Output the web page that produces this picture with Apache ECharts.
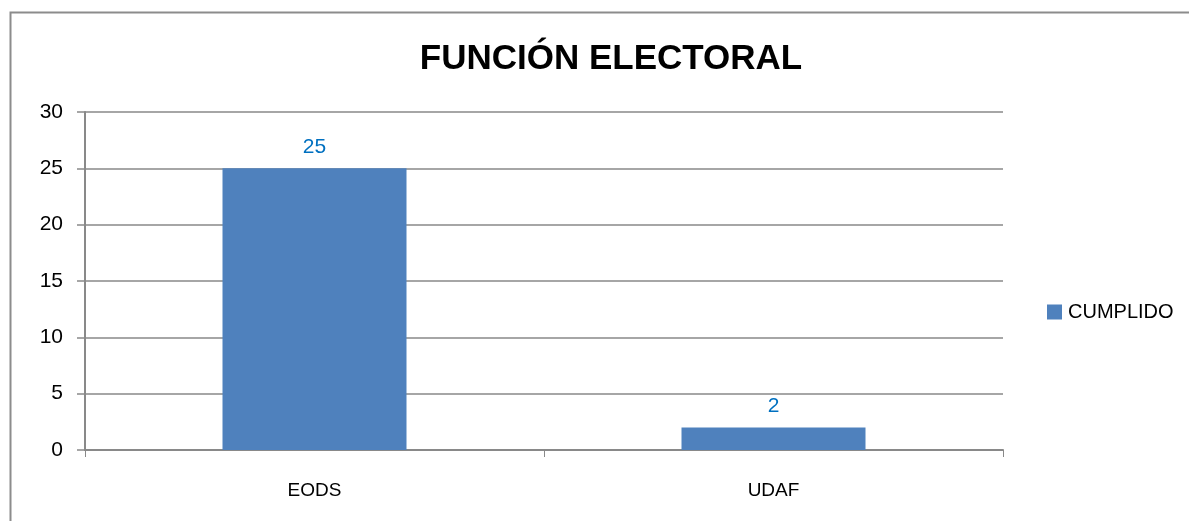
<!DOCTYPE html>
<html>
<head>
<meta charset="utf-8">
<script src="https://cdn.jsdelivr.net/npm/echarts@6/dist/echarts.min.js"></script>
<style>
  html, body { margin: 0; padding: 0; background: #fff; }
  #chart { width: 1189px; height: 521px; }
</style>
</head>
<body>
<div id="chart"></div>
<script>
  const categories = ['EODS', 'UDAF']
  const cumplido = [25, 2]
  const seriesName = 'CUMPLIDO'
  const titleText = 'FUNCIÓN ELECTORAL'

  const font = '"Liberation Sans", "DejaVu Sans", sans-serif'
  const axisGray = '#898989'

  const chart = echarts.init(document.getElementById('chart'))
  chart.setOption({
    animation: false,
    textStyle: { fontFamily: font },
    title: {
      text: titleText,
      left: 606,
      top: 37,
      textAlign: 'center',
      textStyle: { fontSize: 35, fontWeight: 'bold', color: '#000', fontFamily: font }
    },
    // outer frame of the chart box
    graphic: [{
      type: 'polyline',
      shape: { points: [[10.5, 521], [10.5, 12.5], [1189, 12.5]] },
      style: { stroke: '#8c8c8c', lineWidth: 2, fill: null }
    }],
    legend: {
      data: [seriesName],
      left: 1042,
      top: 297,
      icon: 'rect',
      itemWidth: 15,
      itemHeight: 15,
      itemGap: 6,
      textStyle: { fontSize: 20, color: '#000', fontFamily: font, padding: [0, 0, 0, 1] }
    },
    grid: { left: 85, top: 112, width: 918, height: 338, containLabel: false },
    xAxis: {
      type: 'category',
      data: categories,
      axisLine: { show: true, lineStyle: { color: axisGray, width: 2 } },
      axisTick: { show: true, length: 7, lineStyle: { color: axisGray, width: 1 } },
      axisLabel: { color: '#000', fontSize: 19, margin: 31, fontFamily: font }
    },
    yAxis: {
      type: 'value',
      min: 0,
      max: 30,
      interval: 5,
      axisLine: { show: true, lineStyle: { color: axisGray, width: 2 } },
      axisTick: { show: true, length: 8, lineStyle: { color: axisGray, width: 1.5 } },
      axisLabel: { color: '#000', fontSize: 21, margin: 22, fontFamily: font },
      splitLine: { show: true, lineStyle: { color: axisGray, width: 1.5 } }
    },
    series: [{
      name: seriesName,
      type: 'bar',
      data: cumplido,
      barWidth: 184,
      itemStyle: { color: '#4f81bd' },
      label: {
        show: true,
        position: 'top',
        distance: 11,
        color: '#0070c0',
        fontSize: 21,
        fontFamily: font
      }
    }]
  })
</script>
</body>
</html>
